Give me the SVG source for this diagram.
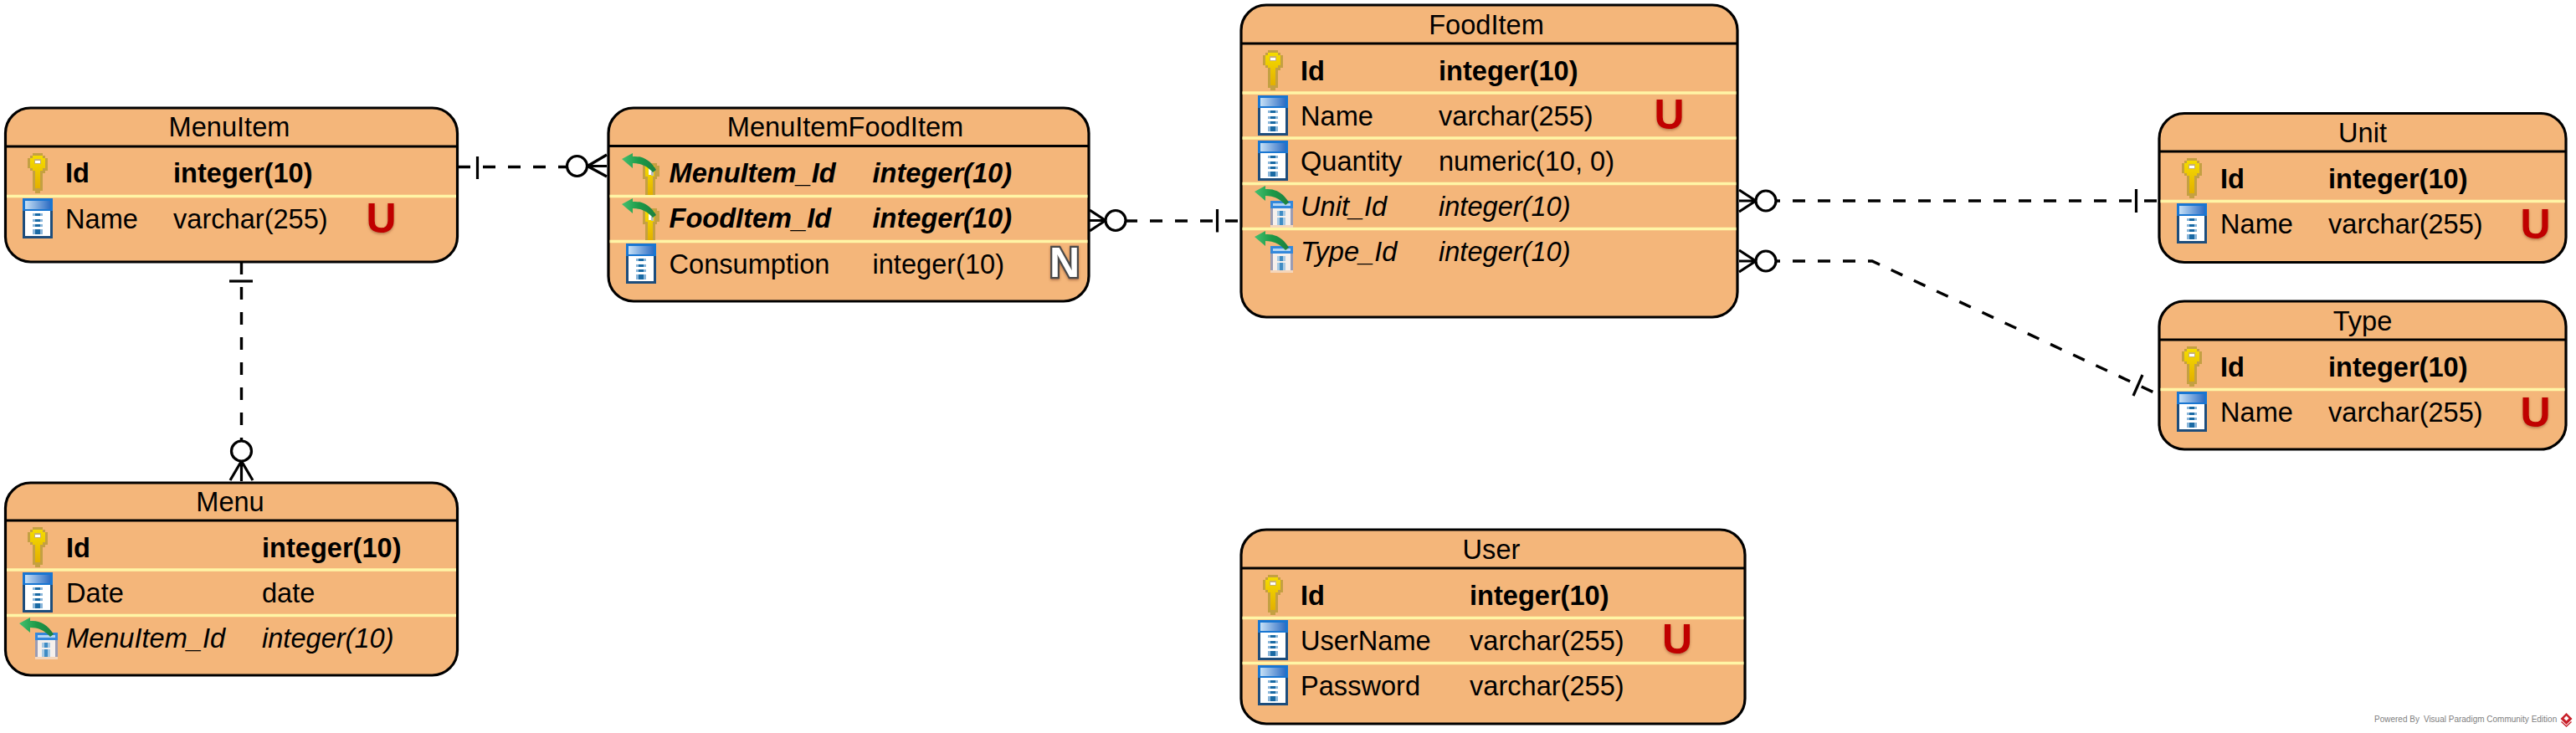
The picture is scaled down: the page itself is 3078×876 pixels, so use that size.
<svg xmlns="http://www.w3.org/2000/svg" width="3078" height="876" viewBox="0 0 3078 876">
<style>
text{font-family:"Liberation Sans",Arial,sans-serif;fill:#000}
.box{fill:#f4b67a;stroke:#000;stroke-width:3.2}
.hdr{stroke:#000;stroke-width:3}
.sep{stroke:#fff5a6;stroke-width:3.5}
.title{font-size:32.6px;text-anchor:middle}
.f{font-size:32.6px}
.pk{font-weight:bold}
.fk{font-style:italic}
.u{font-size:50px;font-weight:bold;text-anchor:middle;fill:#c00000;filter:url(#shadow)}
.n{font-size:50px;font-weight:bold;text-anchor:middle;fill:#fff;stroke:#4a4a4a;stroke-width:4.5;paint-order:stroke;filter:url(#shadow)}
.dash{fill:none;stroke:#000;stroke-width:3.4;stroke-dasharray:15 15}
.solid{fill:none;stroke:#000;stroke-width:3.2}
.circ{fill:#fff;stroke:#000;stroke-width:3.2}
.foot{font-size:10px;fill:#808080}
</style>
<defs>
<filter id="shadow" x="-30%" y="-30%" width="160%" height="160%"><feDropShadow dx="0" dy="1.5" stdDeviation="1.5" flood-color="#7a3a20" flood-opacity="0.55"/></filter>
<linearGradient id="hg"><stop offset="0" stop-color="#c6e0f6"/><stop offset="1" stop-color="#2f6ec4"/></linearGradient>
<linearGradient id="kg" x1="0" y1="0" x2="0" y2="1"><stop offset="0" stop-color="#f5dc00"/><stop offset="1" stop-color="#e3b000"/></linearGradient>
<linearGradient id="ag"><stop offset="0" stop-color="#45c070"/><stop offset="0.5" stop-color="#1c9a48"/><stop offset="1" stop-color="#1c7f3f"/></linearGradient>
<g id="key" shape-rendering="crispEdges">
<path d="M6 0h12v3h3v3h3v15h-3v3h-3v21h-3v3h-6v-3h-3V24H6v-3H3v-3H0V6h3V3h3z" fill="#c4a042"/>
<path d="M6 3h12v3h3v12h-3v3h-3v21h-6V21H6v-3H3V6h3z" fill="url(#kg)"/>
<rect x="8" y="7" width="8" height="6" fill="#c8b070"/><rect x="9" y="9" width="6" height="3" fill="#fff"/>
</g>
<g id="col" shape-rendering="crispEdges">
<rect width="36" height="48" fill="#1d4d7c"/>
<rect width="36" height="15" fill="#1876d2"/>
<rect x="3" y="3" width="30" height="10" fill="url(#hg)"/>
<rect x="3" y="15" width="30" height="30" fill="#fff"/>
<g fill="#8ab6da"><rect x="12" y="18" width="12" height="3"/><rect x="12" y="25" width="12" height="3"/><rect x="12" y="31" width="12" height="3"/><rect x="12" y="37" width="12" height="6"/></g>
<g fill="#1a6aa4"><rect x="15" y="18" width="6" height="3"/><rect x="15" y="25" width="6" height="3"/><rect x="15" y="31" width="6" height="3"/><rect x="15" y="37" width="6" height="6"/></g>
</g>
<path id="arrow" d="M0 7L13 0V4C24 3 34 8 41 20L37 23C30 15 22 12 13 12V18Z" fill="url(#ag)"/>
<g id="fkcol">
<g shape-rendering="crispEdges">
<rect x="19" y="18" width="27" height="32" fill="#f6f0ec"/>
<rect x="19" y="18" width="27" height="9" fill="#3388dc"/><rect x="22" y="21" width="21" height="3" fill="#b5d5f2"/>
<rect x="19" y="27" width="3" height="20" fill="#9a9cb4"/><rect x="43" y="27" width="3" height="20" fill="#9a9cb4"/>
<rect x="27" y="30" width="10" height="6" fill="#a8cae4"/><rect x="30" y="30" width="4" height="6" fill="#3f8cc4"/>
<rect x="27" y="38" width="10" height="9" fill="#a8cae4"/><rect x="30" y="38" width="4" height="9" fill="#3f8cc4"/>
<rect x="19" y="47" width="27" height="3" fill="#f6d6ba"/>
</g>
<use href="#arrow"/>
</g>
<g id="fkkey">
<g shape-rendering="crispEdges">
<path d="M25 12h17v3h3v13h-3v3h-2v19H28V31h-3z" fill="#c4a042"/>
<path d="M28 15h11v13h-2v22h-6V28h-3z" fill="url(#kg)"/>
<rect x="32" y="17" width="5" height="9" fill="#fff"/><rect x="35" y="22" width="3" height="5" fill="#bbb"/>
</g>
<use href="#arrow"/>
</g>
</defs>

<g id="connectors">
<g id="c-menuitem-mifi">
<path class="dash" d="M547 199.5H677"/>
<path class="solid" d="M570.5 187V214"/>
<circle class="circ" cx="689.5" cy="198.5" r="12"/>
<path class="solid" d="M702 198.5L725 185M702 198.5H725M702 198.5L725 211"/>
</g>
<g id="c-menuitem-menu">
<path class="dash" d="M288.5 313V527"/>
<path class="solid" d="M274 336H302"/>
<circle class="circ" cx="288.5" cy="539" r="12"/>
<path class="solid" d="M288.5 551L275 574M288.5 551V575M288.5 551L302 574"/>
</g>
<g id="c-mifi-food">
<path class="dash" d="M1344 264H1482"/>
<path class="solid" d="M1454.5 250V277.5"/>
<circle class="circ" cx="1333" cy="263.5" r="12"/>
<path class="solid" d="M1321 263.5L1302 251M1321 263.5H1302M1321 263.5L1302 276"/>
</g>
<g id="c-food-unit">
<path class="dash" d="M2112 240H2580"/>
<path class="solid" d="M2552.5 226V254"/>
<circle class="circ" cx="2110" cy="240" r="12"/>
<path class="solid" d="M2098 240L2078 227M2098 240H2078M2098 240L2078 253"/>
</g>
<g id="c-food-type">
<path class="dash" d="M2112 312H2237L2580 472"/>
<path class="solid" d="M2560 448L2549 473"/>
<circle class="circ" cx="2110" cy="312" r="12"/>
<path class="solid" d="M2098 312L2078 299M2098 312H2078M2098 312L2078 325"/>
</g>
</g>

<g id="MenuItem">
<rect class="box" x="6.5" y="129" width="540" height="184" rx="30"/>
<path class="hdr" d="M6.5 175H546.5"/><path class="sep" d="M8 234.5H545"/>
<text class="title" x="274" y="163">MenuItem</text>
<use href="#key" x="33" y="183"/><use href="#col" x="27" y="237"/>
<text class="f pk" x="78" y="218">Id</text><text class="f pk" x="207" y="218">integer(10)</text>
<text class="f" x="78" y="272.5">Name</text><text class="f" x="207" y="272.5">varchar(255)</text>
<text class="u" x="455.5" y="278">U</text>
</g>

<g id="Menu">
<rect class="box" x="6.5" y="577" width="540" height="230" rx="30"/>
<path class="hdr" d="M6.5 622H546.5"/><path class="sep" d="M8 681H545M8 735.5H545"/>
<text class="title" x="275" y="611">Menu</text>
<use href="#key" x="33" y="630"/><use href="#col" x="27" y="684"/><use href="#fkcol" x="23" y="738"/>
<text class="f pk" x="79" y="665.5">Id</text><text class="f pk" x="313" y="665.5">integer(10)</text>
<text class="f" x="79" y="719.5">Date</text><text class="f" x="313" y="719.5">date</text>
<text class="f fk" x="79" y="773.5">MenuItem_Id</text><text class="f fk" x="313" y="773.5">integer(10)</text>
</g>

<g id="MenuItemFoodItem">
<rect class="box" x="727" y="129" width="574" height="231" rx="30"/>
<path class="hdr" d="M727 174.5H1301"/><path class="sep" d="M728.5 234.5H1299.5M728.5 288.5H1299.5"/>
<text class="title" x="1010" y="163">MenuItemFoodItem</text>
<use href="#fkkey" x="743" y="183"/><use href="#fkkey" x="743" y="237"/><use href="#col" x="748" y="291"/>
<text class="f pk fk" x="799.5" y="218">MenuItem_Id</text><text class="f pk fk" x="1042.5" y="218">integer(10)</text>
<text class="f pk fk" x="799.5" y="272">FoodItem_Id</text><text class="f pk fk" x="1042.5" y="272">integer(10)</text>
<text class="f" x="799.5" y="326.5">Consumption</text><text class="f" x="1042.5" y="326.5">integer(10)</text>
<text class="n" x="1272" y="331">N</text>
</g>

<g id="FoodItem">
<rect class="box" x="1483" y="6" width="593" height="373" rx="30"/>
<path class="hdr" d="M1483 52H2076"/><path class="sep" d="M1484.5 111H2074.5M1484.5 165H2074.5M1484.5 219.5H2074.5M1484.5 273.5H2074.5"/>
<text class="title" x="1776" y="41">FoodItem</text>
<use href="#key" x="1509" y="60"/><use href="#col" x="1503" y="114"/><use href="#col" x="1503" y="168"/><use href="#fkcol" x="1499" y="222"/><use href="#fkcol" x="1499" y="276"/>
<text class="f pk" x="1554" y="96">Id</text><text class="f pk" x="1719" y="96">integer(10)</text>
<text class="f" x="1554" y="150">Name</text><text class="f" x="1719" y="150">varchar(255)</text>
<text class="f" x="1554" y="204">Quantity</text><text class="f" x="1719" y="204">numeric(10, 0)</text>
<text class="f fk" x="1554" y="257.5">Unit_Id</text><text class="f fk" x="1719" y="257.5">integer(10)</text>
<text class="f fk" x="1554" y="312">Type_Id</text><text class="f fk" x="1719" y="312">integer(10)</text>
<text class="u" x="1994.5" y="154">U</text>
</g>

<g id="Unit">
<rect class="box" x="2580" y="135.5" width="486" height="178" rx="30"/>
<path class="hdr" d="M2580 181H3066"/><path class="sep" d="M2581.5 240.5H3064.5"/>
<text class="title" x="2823" y="170">Unit</text>
<use href="#key" x="2607" y="189"/><use href="#col" x="2601" y="243"/>
<text class="f pk" x="2653" y="225">Id</text><text class="f pk" x="2782" y="225">integer(10)</text>
<text class="f" x="2653" y="279">Name</text><text class="f" x="2782" y="279">varchar(255)</text>
<text class="u" x="3029.5" y="285">U</text>
</g>

<g id="Type">
<rect class="box" x="2580" y="360" width="486" height="177" rx="30"/>
<path class="hdr" d="M2580 406H3066"/><path class="sep" d="M2581.5 465.5H3064.5"/>
<text class="title" x="2823" y="395">Type</text>
<use href="#key" x="2607" y="414"/><use href="#col" x="2601" y="468"/>
<text class="f pk" x="2653" y="450">Id</text><text class="f pk" x="2782" y="450">integer(10)</text>
<text class="f" x="2653" y="504">Name</text><text class="f" x="2782" y="504">varchar(255)</text>
<text class="u" x="3029.5" y="510">U</text>
</g>

<g id="User">
<rect class="box" x="1483" y="633" width="602" height="232" rx="30"/>
<path class="hdr" d="M1483 679H2085"/><path class="sep" d="M1484.5 738.5H2083.5M1484.5 792.5H2083.5"/>
<text class="title" x="1782" y="668">User</text>
<use href="#key" x="1509" y="687"/><use href="#col" x="1503" y="741"/><use href="#col" x="1503" y="795"/>
<text class="f pk" x="1554" y="723">Id</text><text class="f pk" x="1756" y="723">integer(10)</text>
<text class="f" x="1554" y="777">UserName</text><text class="f" x="1756" y="777">varchar(255)</text>
<text class="f" x="1554" y="831">Password</text><text class="f" x="1756" y="831">varchar(255)</text>
<text class="u" x="2004" y="781">U</text>
</g>

<g id="footer">
<text class="foot" x="2837" y="863">Powered By<tspan dx="2.2"> Visual Paradigm Community Edition</tspan></text>
<path d="M3066.5 852L3073.5 859L3066.5 866L3059.5 859Z" fill="#c8202a"/>
<path d="M3060.5 862.5L3066.5 868L3072.5 862.5" fill="none" stroke="#c8202a" stroke-width="1.3"/>
<path d="M3066.5 855.5L3069.5 858.5L3066.5 861.5L3063.5 858.5Z" fill="#fff"/>
</g>
</svg>
